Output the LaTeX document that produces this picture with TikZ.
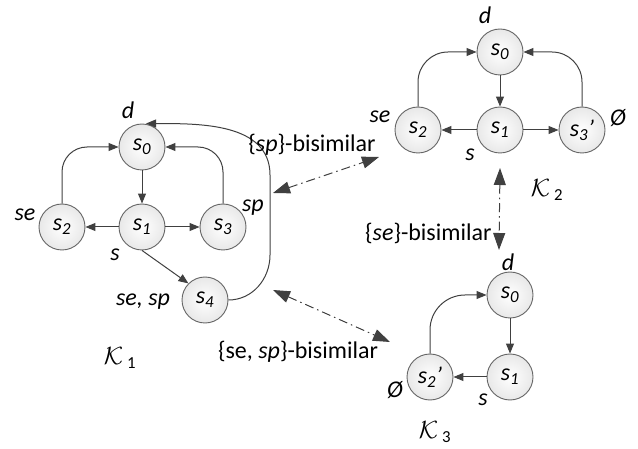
\documentclass[tikz,border=0pt]{standalone}
\usepackage{fontspec}
\setmainfont{Carlito}
\usetikzlibrary{arrows.meta}

\begin{document}
\begin{tikzpicture}[x=1pt,y=1pt,font=\fontsize{24}{28}\selectfont,
  st/.style={circle,draw=black!60,line width=0.9pt,minimum size=46pt,inner sep=0pt,inner color=white,outer color=black!9},
  tr/.style={draw=black!75,line width=1pt,-{Triangle[length=10pt,width=8pt]}},
  loopback/.style={tr,rounded corners=#1},
  bisim/.style={draw=black!75,line width=1pt,dash pattern=on 9pt off 4pt on 1.5pt off 4pt,{Triangle[length=17pt,width=12pt]}-{Triangle[length=17pt,width=12pt]}},
  lab/.style={inner sep=0pt,font=\fontsize{24}{28}\selectfont\itshape}]
\useasboundingbox (0,0) rectangle (638,-449);

% K1
\node[st] (a0) at (142,-147) {\textit{s\textsubscript{0}}};
\node[st] (a1) at (142,-227) {\textit{s\textsubscript{1}}};
\node[st] (a2) at (62,-227) {\textit{s\textsubscript{2}}};
\node[st] (a3) at (223,-227) {\textit{s\textsubscript{3}}};
\node[st] (a4) at (205,-300) {\textit{s\textsubscript{4}}};
\node[lab] (a0l) at (128,-110) {d};
\node[lab] (a1l) at (115,-255) {s};
\node[lab] (a2l) at (25,-215) {se};
\node[lab] (a3l) at (253,-208) {sp};
\node[lab] (a4l) at (143,-302) {se, sp};
\node (k1) at (120,-358) {$\mathcal{K}$\,\textsubscript{1}};
\draw[tr] (a0) -- (a1);
\draw[tr] (a1) -- (a2);
\draw[tr] (a1) -- (a3);
\draw[tr] (a1.south) -- (a4.north west);
\draw[loopback=25] (a2.north) |- (a0.west);
\draw[loopback=25] (a3.north) |- (a0.east);
\draw[tr] (a4.east) to[out=0,in=-90] (270,-255) -- (270,-175) to[out=90,in=0] ([xshift=4pt]a0.north);

% K2
\node[st] (b0) at (500,-52) {\textit{s\textsubscript{0}}};
\node[st] (b1) at (500,-130) {\textit{s\textsubscript{1}}};
\node[st] (b2) at (418,-130) {\textit{s\textsubscript{2}}};
\node[st] (b3) at (582,-130) {\textit{s\textsubscript{3}'}};
\node[lab] (b0l) at (485,-15) {d};
\node[lab] (b1l) at (470,-155) {s};
\node[lab] (b2l) at (380,-117) {se};
\node[lab] (b3l) at (618,-118) {Ø};
\node (k2) at (547,-190) {$\mathcal{K}$\,\textsubscript{2}};
\draw[tr] (b0) -- (b1);
\draw[tr] (b1) -- (b2);
\draw[tr] (b1) -- (b3);
\draw[loopback=30] (b2.north) |- (b0.west);
\draw[loopback=30] (b3.north) |- (b0.east);

% K3
\node[st] (c0) at (510,-295) {\textit{s\textsubscript{0}}};
\node[st] (c1) at (510,-377) {\textit{s\textsubscript{1}}};
\node[st] (c2) at (430,-377) {\textit{s\textsubscript{2}'}};
\node[lab] (c0l) at (508,-262) {d};
\node[lab] (c1l) at (483,-400) {s};
\node[lab] (c2l) at (395,-390) {Ø};
\node (k3) at (435,-432) {$\mathcal{K}$\,\textsubscript{3}};
\draw[tr] (c0) -- (c1);
\draw[tr] (c1) -- (c2);
\draw[loopback=35] (c2.north) |- (c0.west);

% bisimulations
\coordinate (p1) at (273,-193);
\coordinate (p2) at (379,-157);
\coordinate (q1) at (500,-168);
\coordinate (q2) at (499,-250);
\coordinate (r1) at (273,-290);
\coordinate (r2) at (390,-342);
\draw[bisim] (p1) -- (p2);
\draw[bisim] (q1) -- (q2);
\draw[bisim] (r1) -- (r2);
\node (sp) at (312,-145) {\{\textit{sp}\}-bisimilar};
\node[anchor=east] (se) at (495,-233) {\{\textit{se}\}-bisimilar};
\node (sesp) at (298,-352) {\{se, \textit{sp}\}-bisimilar};
\end{tikzpicture}
\end{document}
